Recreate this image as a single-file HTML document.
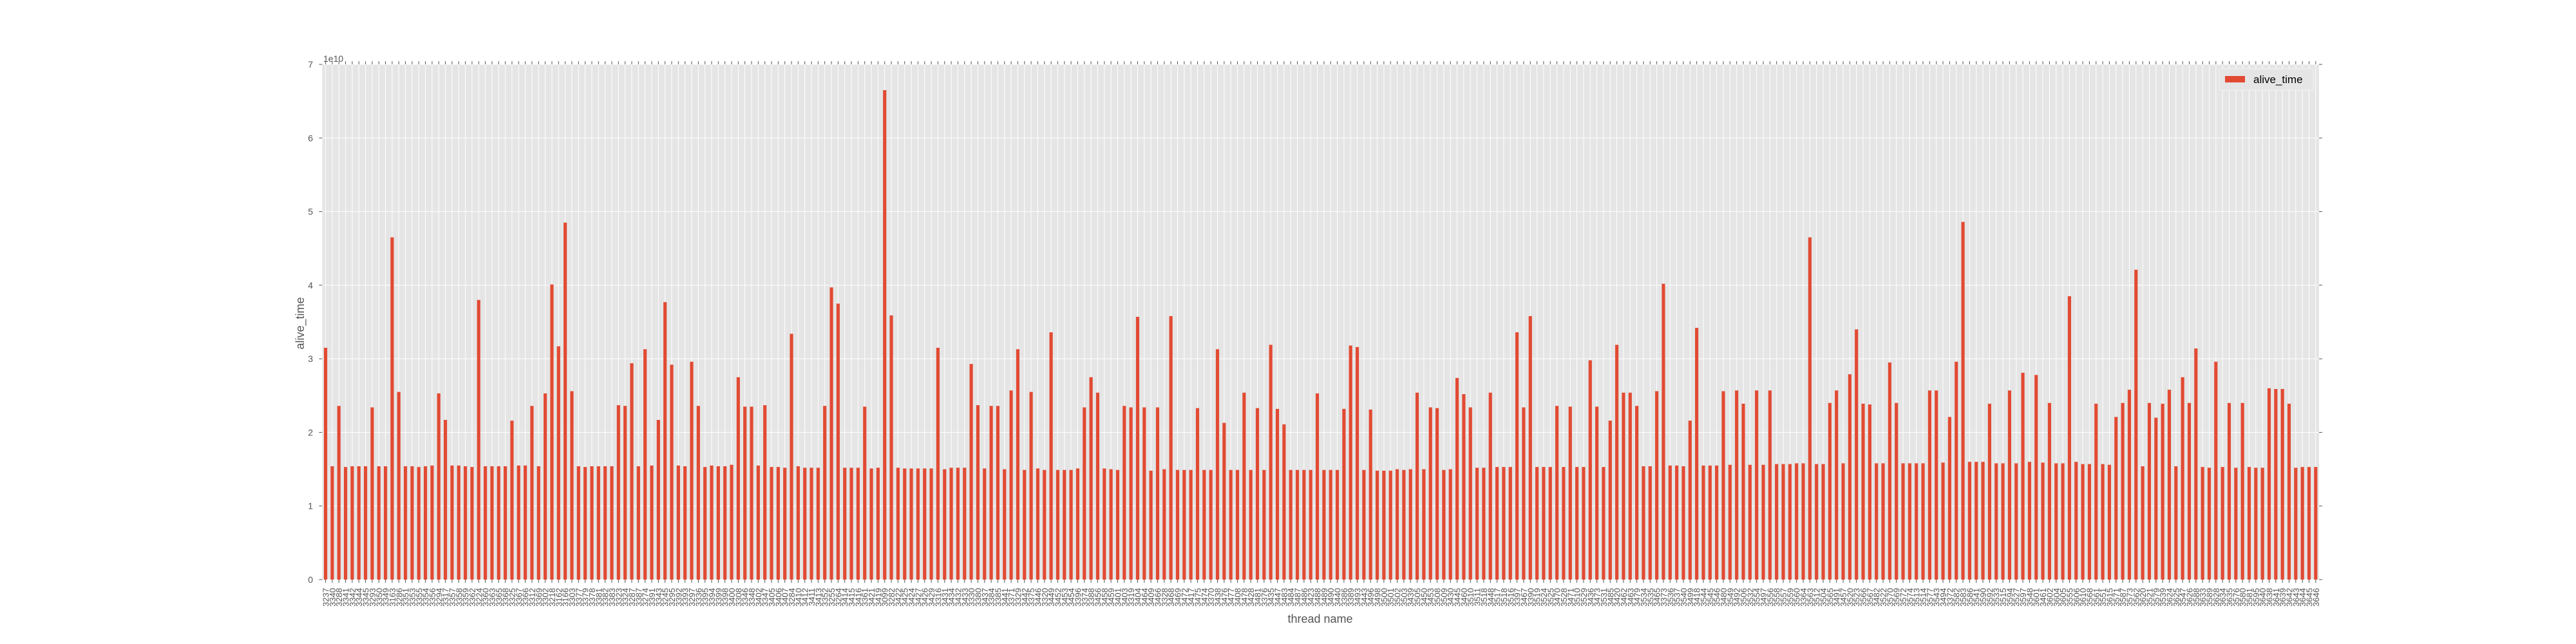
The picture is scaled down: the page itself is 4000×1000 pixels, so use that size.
<!DOCTYPE html>
<html><head><meta charset="utf-8"><style>
html,body{margin:0;padding:0;background:#fff;}
svg{display:block;font-family:"Liberation Sans","DejaVu Sans",sans-serif;}
</style></head><body>
<svg id="chart" width="4000" height="1000" viewBox="0 0 4000 1000" xmlns="http://www.w3.org/2000/svg">
<rect x="500.4" y="100" width="3100.6" height="800" fill="#E5E5E5"/>
<g id="grid"></g><g id="bars"></g><g id="ticks"></g><g id="xlabels"></g><g id="ylabels"></g>
<text x="502" y="96" font-size="14" fill="#555">1e10</text>
<text transform="translate(472,502) rotate(-90)" text-anchor="middle" font-size="18" fill="#555">alive_time</text>
<text x="2050" y="967" text-anchor="middle" font-size="18" fill="#555">thread name</text>
<g>
<rect x="3446" y="107" width="146" height="33" fill="#E5E5E5" stroke="#f2f2f2" stroke-width="1"/>
<rect x="3455" y="118" width="31" height="10" fill="#E24A33"/>
<text x="3499" y="129" font-size="17" fill="#000">alive_time</text>
</g>
</svg>
<script>
const values = [
3.15,1.54,2.36,1.53,1.54,1.54,1.54,2.34,1.54,1.54,
4.65,2.55,1.54,1.54,1.53,1.54,1.55,2.53,2.17,1.55,
1.55,1.54,1.53,3.80,1.54,1.54,1.54,1.54,2.16,1.55,
1.55,2.36,1.54,2.53,4.01,3.17,4.85,2.56,1.54,1.53,
1.54,1.54,1.54,1.54,2.37,2.36,2.94,1.54,3.13,1.55,
2.17,3.77,2.92,1.55,1.54,2.96,2.36,1.53,1.55,1.54,
1.54,1.56,2.75,2.35,2.35,1.55,2.37,1.53,1.53,1.52,
3.34,1.54,1.52,1.52,1.52,2.36,
3.97,3.75,1.52,1.52,1.52,2.35,1.51,1.52,6.65,3.59,
1.52,1.51,1.51,1.51,1.51,1.51,3.15,1.50,1.52,1.52,
1.52,2.93,2.37,1.51,2.36,2.36,1.50,2.57,3.13,1.49,
2.55,1.51,1.49,3.36,1.49,1.49,1.49,1.51,2.34,2.75,
2.54,1.51,1.50,1.49,2.36,2.34,3.57,2.34,1.48,2.34,
1.50,3.58,1.49,1.49,1.49,2.33,1.49,1.49,3.13,2.13,
1.49,1.49,2.54,1.49,2.33,1.49,3.19,2.32,2.11,1.49,
1.49,1.49,1.49,2.53,1.49,1.49,
1.49,2.32,3.18,3.16,1.49,2.31,1.48,1.48,1.48,1.50,
1.49,1.50,2.54,1.50,2.34,2.33,1.49,1.50,2.74,2.52,
2.34,1.52,1.52,2.54,1.53,1.53,1.53,3.36,2.34,3.58,
1.53,1.53,1.53,2.36,1.53,2.35,1.53,1.53,2.98,2.35,
1.53,2.16,3.19,2.54,2.54,2.36,1.54,1.54,2.56,4.02,
1.55,1.55,1.54,2.16,3.42,1.55,1.55,1.55,2.56,1.56,
2.57,2.39,1.56,2.57,1.56,2.57,1.57,1.57,1.57,1.58,
1.58,4.65,1.57,1.57,2.40,2.57,
1.58,2.79,3.40,2.39,2.38,1.58,1.58,2.95,2.40,1.58,
1.58,1.58,1.58,2.57,2.57,1.59,2.21,2.96,4.86,1.60,
1.60,1.60,2.39,1.58,1.58,2.57,1.58,2.81,1.60,2.78,
1.59,2.40,1.58,1.58,3.85,1.60,1.57,1.57,2.39,1.57,
1.56,2.21,2.40,2.58,4.21,1.54,2.40,2.20,2.39,2.58,
1.54,2.75,2.40,3.14,1.53,1.52,2.96,1.53,2.40,1.52,
2.40,1.53,1.52,1.52,2.60,2.59,2.59,2.39,1.52,1.53,
1.53,1.53];
const categories = [
"3237","3340","3288","3341","3342","3344","3345","3293","3350","3349",
"3163","3286","3351","3353","3355","3354","3356","3294","3317","3357",
"3358","3359","3362","3224","3360","3363","3365","3368","3325","3367",
"3366","3312","3369","3302","3218","3162","3166","3303","3377","3379",
"3378","3381","3382","3383","3323","3324","3287","3387","3274","3391",
"3343","3245","3295","3392","3393","3297","3336","3395","3394","3399",
"3398","3400","3308","3346","3348","3402","3347","3405","3406","3407",
"3284","3410","3412","3411","3413","3352",
"3255","3264","3414","3415","3416","3361","3421","3419","3099","3282",
"3422","3425","3424","3427","3426","3429","3316","3431","3434","3432",
"3433","3330","3380","3437","3384","3385","3441","3371","3329","3442",
"3375","3446","3320","3449","3452","3453","3454","3396","3374","3388",
"3456","3458","3459","3401","3403","3319","3404","3464","3409","3466",
"3328","3468","3469","3472","3417","3475","3474","3370","3438","3476",
"3477","3408","3478","3428","3481","3376","3435","3447","3483","3484",
"3487","3486","3423","3488","3489","3490",
"3440","3386","3389","3493","3443","3496","3498","3500","3501","3502",
"3503","3439","3505","3450","3453","3508","3509","3430","3445","3460",
"3510","3511","3518","3448","3517","3518","3516","3397","3467","3390",
"3519","3524","3525","3470","3528","3471","3510","3529","3436","3473",
"3531","3485","3420","3462","3463","3479","3534","3535","3465","3373",
"3536","3537","3540","3499","3418","3544","3545","3546","3480","3549",
"3492","3506","3532","3554","3497","3556","3558","3557","3559","3560",
"3364","3563","3512","3504","3565","3491",
"3457","3520","3523","3566","3567","3482","3522","3570","3569","3572",
"3574","3513","3514","3577","3543","3494","3372","3582","3583","3586",
"3541","3590","3592","3533","3515","3594","3527","3597","3548","3601",
"3461","3602","3604","3605","3555","3606","3610","3568","3561","3551",
"3615","3571","3587","3573","3562","3620","3521","3579","3539","3624",
"3625","3547","3626","3588","3633","3589","3628","3634","3635","3576",
"3580","3581","3595","3640","3638","3641","3639","3642","3643","3644",
"3645","3646"];
const yTicks = [0,1,2,3,4,5,6,7];
const yTickLabels = ["0","1","2","3","4","5","6","7"];

(function(){
const NS = "http://www.w3.org/2000/svg";
const plotL = 500.4, plotR = 3601, plotT = 100, plotB = 900, yMax = 7;
const n = values.length;
const step = (plotR - plotL) / n;
function xScale(i){ return plotL + step * (i + 0.5); }
function yScale(v){ return plotB - (v / yMax) * (plotB - plotT); }
function mk(tag, attrs, parent){
  const e = document.createElementNS(NS, tag);
  for (const k in attrs) e.setAttribute(k, attrs[k]);
  parent.appendChild(e);
  return e;
}
const grid = document.getElementById('grid');
const bars = document.getElementById('bars');
const ticks = document.getElementById('ticks');
const xl = document.getElementById('xlabels');
const yl = document.getElementById('ylabels');

for (let i = 0; i < n; i++) {
  const x = xScale(i);
  const g = mk('line', {x1:x, x2:x, y1:plotT, y2:plotB, stroke:'#fff', 'stroke-width':1}, grid);
  
  
  const t1 = mk('line', {x1:x, x2:x, y1:plotB, y2:plotB+5, stroke:'#555', 'stroke-width':1}, ticks);
  
  
  const t2 = mk('line', {x1:x, x2:x, y1:plotT-5, y2:plotT, stroke:'#555', 'stroke-width':1}, ticks);
  
  
  const lab = mk('text', {transform:'translate(' + (x + 5) + ',' + (plotB + 13) + ') rotate(-90)', 'text-anchor':'end', 'font-size':13, fill:'#555'}, xl);
  lab.textContent = categories[i] || '';
  
  
}
for (let j = 0; j < yTicks.length; j++) {
  const y = yScale(yTicks[j]);
  const g = mk('line', {x1:plotL, x2:plotR, y1:y, y2:y, stroke:'#fff', 'stroke-width':1}, grid);
  
  
  const t = mk('line', {x1:plotL-5, x2:plotL, y1:y, y2:y, stroke:'#555', 'stroke-width':1}, ticks);
  
  
  const tr = mk('line', {x1:plotR, x2:plotR+5, y1:y, y2:y, stroke:'#555', 'stroke-width':1}, ticks);
  
  
  const lab = mk('text', {x:486, y:y+5, 'text-anchor':'end', 'font-size':14, fill:'#555'}, yl);
  lab.textContent = yTickLabels[j];
  
  
}
const bw = step * 0.5;
for (let i = 0; i < n; i++) {
  const y = yScale(values[i]);
  const r = mk('rect', {x:xScale(i) - bw/2, y:y, width:bw, height:plotB - y, fill:'#E24A33'}, bars);
  
  
}
})();
</script>
</body></html>
